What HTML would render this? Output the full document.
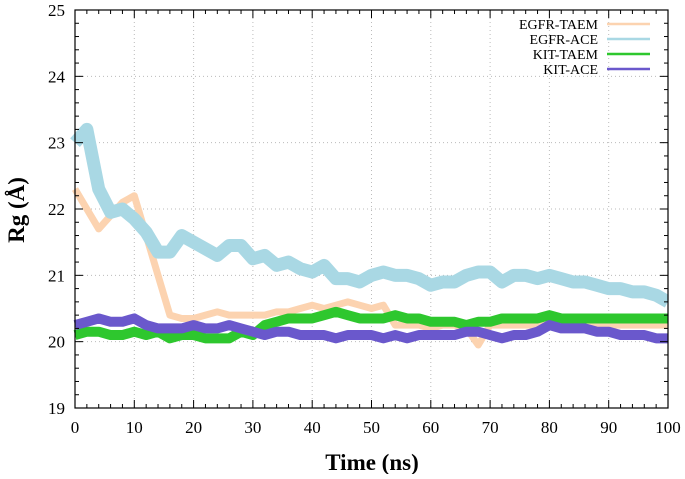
<!DOCTYPE html>
<html><head><meta charset="utf-8"><style>
body{margin:0;background:#fff}
svg text{font-family:"Liberation Serif",serif}
</style></head><body>
<svg id="chart" width="685" height="474" xmlns="http://www.w3.org/2000/svg"></svg>
<script>
const xTicks=[0,10,20,30,40,50,60,70,80,90,100];
const yTicks=[19,20,21,22,23,24,25];
const timeNs=[0,2,4,6,8,10,12,14,16,18,20,22,24,26,28,30,32,34,36,38,40,42,44,46,48,50,52,54,56,58,60,62,64,66,68,70,72,74,76,78,80,82,84,86,88,90,92,94,96,98,100];
const egfrTaem=[22.3,22.0,21.7,21.9,22.1,22.2,21.6,21.0,20.4,20.35,20.35,20.4,20.45,20.4,20.4,20.4,20.4,20.45,20.45,20.5,20.55,20.5,20.55,20.6,20.55,20.5,20.55,20.25,20.25,20.25,20.2,20.25,20.25,20.2,19.95,20.25,20.25,20.25,20.25,20.25,20.25,20.25,20.25,20.25,20.25,20.25,20.25,20.25,20.25,20.25,20.25];
const egfrAce=[23.0,23.2,22.3,21.95,22.0,21.85,21.65,21.35,21.35,21.6,21.5,21.4,21.3,21.45,21.45,21.25,21.3,21.15,21.2,21.1,21.05,21.15,20.95,20.95,20.9,21.0,21.05,21.0,21.0,20.95,20.85,20.9,20.9,21.0,21.05,21.05,20.9,21.0,21.0,20.95,21.0,20.95,20.9,20.9,20.85,20.8,20.8,20.75,20.75,20.7,20.6];
const kitTaem=[20.1,20.15,20.15,20.1,20.1,20.15,20.1,20.15,20.05,20.1,20.1,20.05,20.05,20.05,20.15,20.1,20.25,20.3,20.35,20.35,20.35,20.4,20.45,20.4,20.35,20.35,20.35,20.4,20.35,20.35,20.3,20.3,20.3,20.25,20.3,20.3,20.35,20.35,20.35,20.35,20.4,20.35,20.35,20.35,20.35,20.35,20.35,20.35,20.35,20.35,20.35];
const kitAce=[20.25,20.3,20.35,20.3,20.3,20.35,20.25,20.2,20.2,20.2,20.25,20.2,20.2,20.25,20.2,20.15,20.1,20.15,20.15,20.1,20.1,20.1,20.05,20.1,20.1,20.1,20.05,20.1,20.05,20.1,20.1,20.1,20.1,20.15,20.15,20.1,20.05,20.1,20.1,20.15,20.25,20.2,20.2,20.2,20.15,20.15,20.1,20.1,20.1,20.05,20.05];
const series=[["EGFR-TAEM",egfrTaem,"#fcd3b0","egfr-taem-line",7],["EGFR-ACE",egfrAce,"#a9d8e4","egfr-ace-line",13],["KIT-TAEM",kitTaem,"#2ec72e","kit-taem-line",10],["KIT-ACE",kitAce,"#6a58cc","kit-ace-line",10]];
const L=75,R=668,T=10,B=408;
const X=v=>L+(v-0)/100*(R-L);
const Y=v=>B-(v-19)/6*(B-T);
const svg=document.getElementById('chart');
const NS="http://www.w3.org/2000/svg";
function mk(tag,attrs,parent){const e=document.createElementNS(NS,tag);for(const k in attrs)e.setAttribute(k,attrs[k]);(parent||svg).appendChild(e);return e;}
xTicks.forEach(t=>{if(t>0&&t<100){const g=mk('line',{x1:X(t),x2:X(t),y1:T,y2:B,stroke:'#bbb','stroke-dasharray':'1,3'});

}});
yTicks.forEach(t=>{if(t>19&&t<25){const g=mk('line',{x1:L,x2:R,y1:Y(t),y2:Y(t),stroke:'#bbb','stroke-dasharray':'1,3'});

}});
series.forEach(s=>{
  const pts=s[1].map((v,i)=>X(timeNs[i])+','+Y(v)).join(' ');
  const p=mk('polyline',{points:pts,fill:'none',stroke:s[2],'stroke-width':s[4],'stroke-linejoin':'round'});
  
  
});
const cover=mk('rect',{x:R+0.6,y:0,width:20,height:474,fill:'#fff'});


const f=mk('rect',{x:L,y:T,width:R-L,height:B-T,fill:'none',stroke:'#000','stroke-width':1.2});


for(let v=0;v<=100;v+=2){const big=v%10==0;mk('line',{x1:X(v),x2:X(v),y1:B,y2:B-(big?8:4),stroke:'#000'});mk('line',{x1:X(v),x2:X(v),y1:T,y2:T+(big?8:4),stroke:'#000'});}
for(let v=19;v<=25.001;v+=0.2){const big=Math.abs(v-Math.round(v))<0.01;mk('line',{x1:L,x2:L+(big?8:4),y1:Y(v),y2:Y(v),stroke:'#000'});mk('line',{x1:R,x2:R-(big?8:4),y1:Y(v),y2:Y(v),stroke:'#000'});}
xTicks.forEach(t=>{const e=mk('text',{x:X(t),y:B+25,'text-anchor':'middle','font-size':17});e.textContent=t;

});
yTicks.forEach(t=>{const e=mk('text',{x:L-10,y:Y(t)+6,'text-anchor':'end','font-size':17});e.textContent=t;

});
const xt=mk('text',{x:372,y:470,'text-anchor':'middle','font-size':23,'font-weight':'bold'});xt.textContent='Time (ns)';


const yt=mk('text',{x:0,y:0,'text-anchor':'middle','font-size':23,'font-weight':'bold',transform:'translate(24,210) rotate(-90)'});yt.textContent='Rg (Å)';


series.forEach((s,i)=>{
  const y=24+i*15;
  const t=mk('text',{x:598,y:y+5,'text-anchor':'end','font-size':14});t.textContent=s[0];
  
  
  const l=mk('line',{x1:607,x2:650,y1:y,y2:y,stroke:s[2],'stroke-width':2.5});
  
  
});
</script>
</body></html>
